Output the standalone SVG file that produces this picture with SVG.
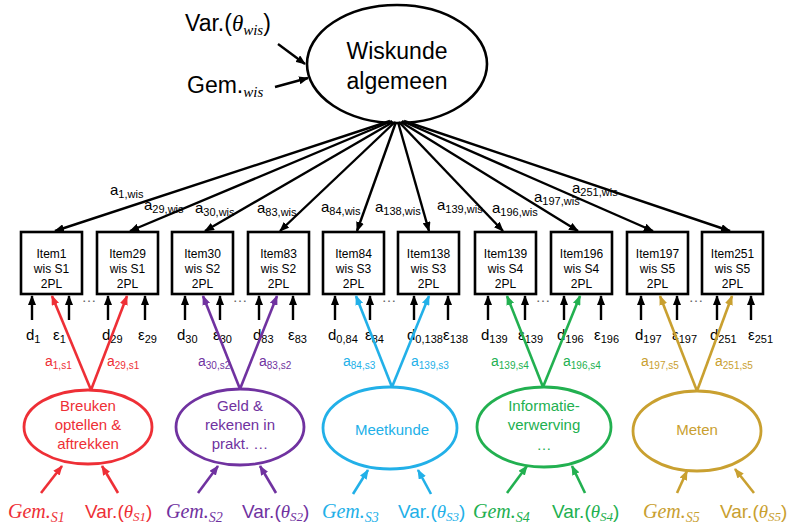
<svg xmlns="http://www.w3.org/2000/svg" width="788" height="525" viewBox="0 0 788 525">
<style>
text{font-family:"Liberation Sans",Arial,sans-serif;fill:#000}
.mi{font-family:"Liberation Serif","DejaVu Serif",serif;font-style:italic}
.box{fill:#fff;stroke:#000;stroke-width:2.6}
.bt{font-size:12px;text-anchor:middle}
.lbl{font-size:15px}
.cl{font-size:14px}
.et{font-size:15px;text-anchor:middle}
.k{stroke:#000;stroke-width:2.4;fill:none}
.dots{font-size:15px;fill:#666;text-anchor:middle}
.red{fill:#EE2F36}.pur{fill:#7032A0}.cya{fill:#22B0E8}.grn{fill:#22B050}.gld{fill:#C9A030}
.sr{stroke:#EE2F36}.sp{stroke:#7032A0}.sc{stroke:#22B0E8}.sg{stroke:#22B050}.sd{stroke:#C9A030}
.cs{stroke-width:2.6;fill:none}
.ce{fill:none;stroke-width:2.8}
</style>
<defs>
<marker id="ak" markerUnits="userSpaceOnUse" markerWidth="10" markerHeight="8" refX="9" refY="4" orient="auto"><path d="M0,0 L10,4 L0,8 z" fill="#000"/></marker>
<marker id="ar" markerUnits="userSpaceOnUse" markerWidth="10" markerHeight="8" refX="9" refY="4" orient="auto"><path d="M0,0 L10,4 L0,8 z" fill="#EE2F36"/></marker>
<marker id="ap" markerUnits="userSpaceOnUse" markerWidth="10" markerHeight="8" refX="9" refY="4" orient="auto"><path d="M0,0 L10,4 L0,8 z" fill="#7032A0"/></marker>
<marker id="ac" markerUnits="userSpaceOnUse" markerWidth="10" markerHeight="8" refX="9" refY="4" orient="auto"><path d="M0,0 L10,4 L0,8 z" fill="#22B0E8"/></marker>
<marker id="ag" markerUnits="userSpaceOnUse" markerWidth="10" markerHeight="8" refX="9" refY="4" orient="auto"><path d="M0,0 L10,4 L0,8 z" fill="#22B050"/></marker>
<marker id="ad" markerUnits="userSpaceOnUse" markerWidth="10" markerHeight="8" refX="9" refY="4" orient="auto"><path d="M0,0 L10,4 L0,8 z" fill="#C9A030"/></marker>
</defs>

<g id="wiskunde">
<ellipse cx="397" cy="64" rx="90" ry="59" fill="#fff" stroke="#000" stroke-width="2.6"/>
<text x="397" y="59" font-size="23" text-anchor="middle">Wiskunde</text>
<text x="397" y="89" font-size="23" text-anchor="middle">algemeen</text>
</g>
<g id="var-wis"><text x="185" y="31" font-size="23">Var.(<tspan class="mi">θ<tspan font-size="15" dy="4">wis</tspan></tspan><tspan dy="-4">)</tspan></text></g>
<g id="gem-wis"><text x="187" y="93" font-size="23">Gem.<tspan class="mi" font-size="15" dy="4">wis</tspan></text></g>

<g id="item1"><rect class="box" x="21" y="232" width="61" height="62"/><text class="bt" x="51.5" y="258">Item1</text><text class="bt" x="51.5" y="273">wis S1</text><text class="bt" x="51.5" y="288">2PL</text></g>
<g id="item29"><rect class="box" x="97" y="232" width="61" height="62"/><text class="bt" x="127.5" y="258">Item29</text><text class="bt" x="127.5" y="273">wis S1</text><text class="bt" x="127.5" y="288">2PL</text></g>
<g id="item30"><rect class="box" x="172" y="232" width="61" height="62"/><text class="bt" x="202.5" y="258">Item30</text><text class="bt" x="202.5" y="273">wis S2</text><text class="bt" x="202.5" y="288">2PL</text></g>
<g id="item83"><rect class="box" x="248" y="232" width="61" height="62"/><text class="bt" x="278.5" y="258">Item83</text><text class="bt" x="278.5" y="273">wis S2</text><text class="bt" x="278.5" y="288">2PL</text></g>
<g id="item84"><rect class="box" x="323" y="232" width="61" height="62"/><text class="bt" x="353.5" y="258">Item84</text><text class="bt" x="353.5" y="273">wis S3</text><text class="bt" x="353.5" y="288">2PL</text></g>
<g id="item138"><rect class="box" x="398" y="232" width="61" height="62"/><text class="bt" x="428.5" y="258">Item138</text><text class="bt" x="428.5" y="273">wis S3</text><text class="bt" x="428.5" y="288">2PL</text></g>
<g id="item139"><rect class="box" x="475" y="232" width="61" height="62"/><text class="bt" x="505.5" y="258">Item139</text><text class="bt" x="505.5" y="273">wis S4</text><text class="bt" x="505.5" y="288">2PL</text></g>
<g id="item196"><rect class="box" x="551" y="232" width="61" height="62"/><text class="bt" x="581.5" y="258">Item196</text><text class="bt" x="581.5" y="273">wis S4</text><text class="bt" x="581.5" y="288">2PL</text></g>
<g id="item197"><rect class="box" x="627" y="232" width="61" height="62"/><text class="bt" x="657.5" y="258">Item197</text><text class="bt" x="657.5" y="273">wis S5</text><text class="bt" x="657.5" y="288">2PL</text></g>
<g id="item251"><rect class="box" x="702" y="232" width="61" height="62"/><text class="bt" x="732.5" y="258">Item251</text><text class="bt" x="732.5" y="273">wis S5</text><text class="bt" x="732.5" y="288">2PL</text></g>

<g id="ellipsis">
<text class="dots" x="89" y="302">…</text><text class="dots" x="240" y="302">…</text><text class="dots" x="389" y="302">…</text><text class="dots" x="543" y="302">…</text><text class="dots" x="696" y="302">…</text>
</g>

<g id="labels-wis" class="lbl">
<text x="110" y="195">a<tspan font-size="11" dy="3">1,wis</tspan></text>
<text x="144" y="210">a<tspan font-size="11" dy="3">29,wis</tspan></text>
<text x="195" y="213">a<tspan font-size="11" dy="3">30,wis</tspan></text>
<text x="257" y="213">a<tspan font-size="11" dy="3">83,wis</tspan></text>
<text x="321" y="212">a<tspan font-size="11" dy="3">84,wis</tspan></text>
<text x="375" y="212">a<tspan font-size="11" dy="3">138,wis</tspan></text>
<text x="437" y="210">a<tspan font-size="11" dy="3">139,wis</tspan></text>
<text x="492" y="213">a<tspan font-size="11" dy="3">196,wis</tspan></text>
<text x="534" y="202">a<tspan font-size="11" dy="3">197,wis</tspan></text>
<text x="572" y="193">a<tspan font-size="11" dy="3">251,wis</tspan></text>
</g>

<g id="labels-de" class="lbl">
<text x="26" y="340">d<tspan font-size="11" dy="3">1</tspan></text><text x="53" y="340">ε<tspan font-size="11" dy="3">1</tspan></text>
<text x="102" y="340">d<tspan font-size="11" dy="3">29</tspan></text><text x="138" y="340">ε<tspan font-size="11" dy="3">29</tspan></text>
<text x="177" y="340">d<tspan font-size="11" dy="3">30</tspan></text><text x="213" y="340">ε<tspan font-size="11" dy="3">30</tspan></text>
<text x="253" y="340">d<tspan font-size="11" dy="3">83</tspan></text><text x="288" y="340">ε<tspan font-size="11" dy="3">83</tspan></text>
<text x="328" y="340">d<tspan font-size="11" dy="3">0,84</tspan></text><text x="365" y="340">ε<tspan font-size="11" dy="3">84</tspan></text>
<text x="407" y="340">d<tspan font-size="11" dy="3">0,138</tspan></text><text x="443" y="340">ε<tspan font-size="11" dy="3">138</tspan></text>
<text x="481" y="340">d<tspan font-size="11" dy="3">139</tspan></text><text x="518" y="340">ε<tspan font-size="11" dy="3">139</tspan></text>
<text x="557" y="340">d<tspan font-size="11" dy="3">196</tspan></text><text x="594" y="340">ε<tspan font-size="11" dy="3">196</tspan></text>
<text x="635" y="340">d<tspan font-size="11" dy="3">197</tspan></text><text x="672" y="340">ε<tspan font-size="11" dy="3">197</tspan></text>
<text x="710" y="340">d<tspan font-size="11" dy="3">251</tspan></text><text x="748" y="340">ε<tspan font-size="11" dy="3">251</tspan></text>
</g>

<g id="labels-s" class="cl">
<text class="red" x="45" y="366">a<tspan font-size="10" dy="3">1,s1</tspan></text>
<text class="red" x="107" y="366">a<tspan font-size="10" dy="3">29,s1</tspan></text>
<text class="pur" x="198" y="366">a<tspan font-size="10" dy="3">30,s2</tspan></text>
<text class="pur" x="259" y="366">a<tspan font-size="10" dy="3">83,s2</tspan></text>
<text class="cya" x="343" y="366">a<tspan font-size="10" dy="3">84,s3</tspan></text>
<text class="cya" x="411" y="366">a<tspan font-size="10" dy="3">139,s3</tspan></text>
<text class="grn" x="491" y="366">a<tspan font-size="10" dy="3">139,s4</tspan></text>
<text class="grn" x="563" y="366">a<tspan font-size="10" dy="3">196,s4</tspan></text>
<text class="gld" x="641" y="366">a<tspan font-size="10" dy="3">197,s5</tspan></text>
<text class="gld" x="715" y="366">a<tspan font-size="10" dy="3">251,s5</tspan></text>
</g>

<g id="s1"><ellipse class="ce sr" cx="88" cy="427" rx="64" ry="37"/><text class="et red" x="88" y="411">Breuken</text><text class="et red" x="88" y="430">optellen &amp;</text><text class="et red" x="88" y="449">aftrekken</text></g>
<g id="s2"><ellipse class="ce sp" cx="240" cy="427" rx="64" ry="38"/><text class="et pur" x="240" y="411">Geld &amp;</text><text class="et pur" x="240" y="430">rekenen in</text><text class="et pur" x="240" y="449">prakt. …</text></g>
<g id="s3"><ellipse class="ce sc" cx="390" cy="428" rx="67" ry="41"/><text class="et cya" x="392" y="435">Meetkunde</text></g>
<g id="s4"><ellipse class="ce sg" cx="544" cy="427" rx="67" ry="40"/><text class="et grn" x="544" y="411">Informatie-</text><text class="et grn" x="544" y="430">verwerving</text><text class="et grn" x="544" y="450">…</text></g>
<g id="s5"><ellipse class="ce sd" cx="697" cy="431" rx="64" ry="40"/><text class="et gld" x="697" y="435">Meten</text></g>

<g id="params">
<text class="mi red" x="8" y="518" font-size="20">Gem.<tspan font-size="14" dy="4">S1</tspan></text>
<text class="red" x="85" y="518" font-size="19">Var.(<tspan class="mi">θ<tspan font-size="13" dy="3">S1</tspan></tspan><tspan dy="-3">)</tspan></text>
<text class="mi pur" x="166" y="518" font-size="20">Gem.<tspan font-size="14" dy="4">S2</tspan></text>
<text class="pur" x="242" y="518" font-size="19">Var.(<tspan class="mi">θ<tspan font-size="13" dy="3">S2</tspan></tspan><tspan dy="-3">)</tspan></text>
<text class="mi cya" x="322" y="518" font-size="20">Gem.<tspan font-size="14" dy="4">S3</tspan></text>
<text class="cya" x="398" y="518" font-size="19">Var.(<tspan class="mi">θ<tspan font-size="13" dy="3">S3</tspan></tspan><tspan dy="-3">)</tspan></text>
<text class="mi grn" x="473" y="518" font-size="20">Gem.<tspan font-size="14" dy="4">S4</tspan></text>
<text class="grn" x="552" y="518" font-size="19">Var.(<tspan class="mi">θ<tspan font-size="13" dy="3">S4</tspan></tspan><tspan dy="-3">)</tspan></text>
<text class="mi gld" x="643" y="518" font-size="20">Gem.<tspan font-size="14" dy="4">S5</tspan></text>
<text class="gld" x="720" y="518" font-size="19">Var.(<tspan class="mi">θ<tspan font-size="13" dy="3">S5</tspan></tspan><tspan dy="-3">)</tspan></text>
</g>

<g id="connectors">
<g class="k" marker-end="url(#ak)">
<line x1="278" y1="44" x2="305" y2="64"/>
<line x1="275" y1="87" x2="308" y2="78"/>
<line x1="390" y1="121" x2="55" y2="231"/>
<line x1="392" y1="121" x2="130" y2="231"/>
<line x1="393" y1="122" x2="205" y2="231"/>
<line x1="395" y1="122" x2="280" y2="231"/>
<line x1="396" y1="122" x2="357" y2="231"/>
<line x1="398" y1="122" x2="429" y2="231"/>
<line x1="399" y1="122" x2="503" y2="231"/>
<line x1="401" y1="122" x2="578" y2="231"/>
<line x1="402" y1="121" x2="653" y2="231"/>
<line x1="404" y1="121" x2="730" y2="231"/>
<line x1="32" y1="320" x2="32" y2="296"/><line x1="69" y1="320" x2="69" y2="296"/>
<line x1="108" y1="320" x2="108" y2="296"/><line x1="145" y1="320" x2="145" y2="296"/>
<line x1="185" y1="320" x2="185" y2="296"/><line x1="220" y1="320" x2="220" y2="296"/>
<line x1="259" y1="320" x2="259" y2="296"/><line x1="293" y1="320" x2="293" y2="296"/>
<line x1="335" y1="320" x2="335" y2="296"/><line x1="370" y1="320" x2="370" y2="296"/>
<line x1="414" y1="320" x2="414" y2="296"/><line x1="448" y1="320" x2="448" y2="296"/>
<line x1="488" y1="320" x2="488" y2="296"/><line x1="525" y1="320" x2="525" y2="296"/>
<line x1="564" y1="320" x2="564" y2="296"/><line x1="601" y1="320" x2="601" y2="296"/>
<line x1="641" y1="320" x2="641" y2="296"/><line x1="677" y1="320" x2="677" y2="296"/>
<line x1="717" y1="320" x2="717" y2="296"/><line x1="751" y1="320" x2="751" y2="296"/>
</g>
<g class="cs sr" marker-end="url(#ar)">
<line x1="91" y1="390" x2="52" y2="296"/><line x1="91" y1="390" x2="127" y2="296"/>
<line x1="41" y1="493" x2="62" y2="466"/><line x1="118" y1="493" x2="102" y2="466"/>
</g>
<g class="cs sp" marker-end="url(#ap)">
<line x1="240" y1="389" x2="203" y2="296"/><line x1="240" y1="389" x2="277" y2="296"/>
<line x1="198" y1="493" x2="218" y2="466"/><line x1="276" y1="493" x2="260" y2="466"/>
</g>
<g class="cs sc" marker-end="url(#ac)">
<line x1="392" y1="387" x2="356" y2="296"/><line x1="392" y1="387" x2="429" y2="296"/>
<line x1="353" y1="494" x2="368" y2="470"/><line x1="431" y1="494" x2="418" y2="470"/>
</g>
<g class="cs sg" marker-end="url(#ag)">
<line x1="543" y1="387" x2="507" y2="296"/><line x1="543" y1="387" x2="580" y2="296"/>
<line x1="507" y1="493" x2="527" y2="466"/><line x1="585" y1="493" x2="572" y2="466"/>
</g>
<g class="cs sd" marker-end="url(#ad)">
<line x1="697" y1="391" x2="660" y2="296"/><line x1="697" y1="391" x2="732" y2="296"/>
<line x1="677" y1="493" x2="687" y2="471"/><line x1="754" y1="493" x2="735" y2="469"/>
</g>
</g>
</svg>
